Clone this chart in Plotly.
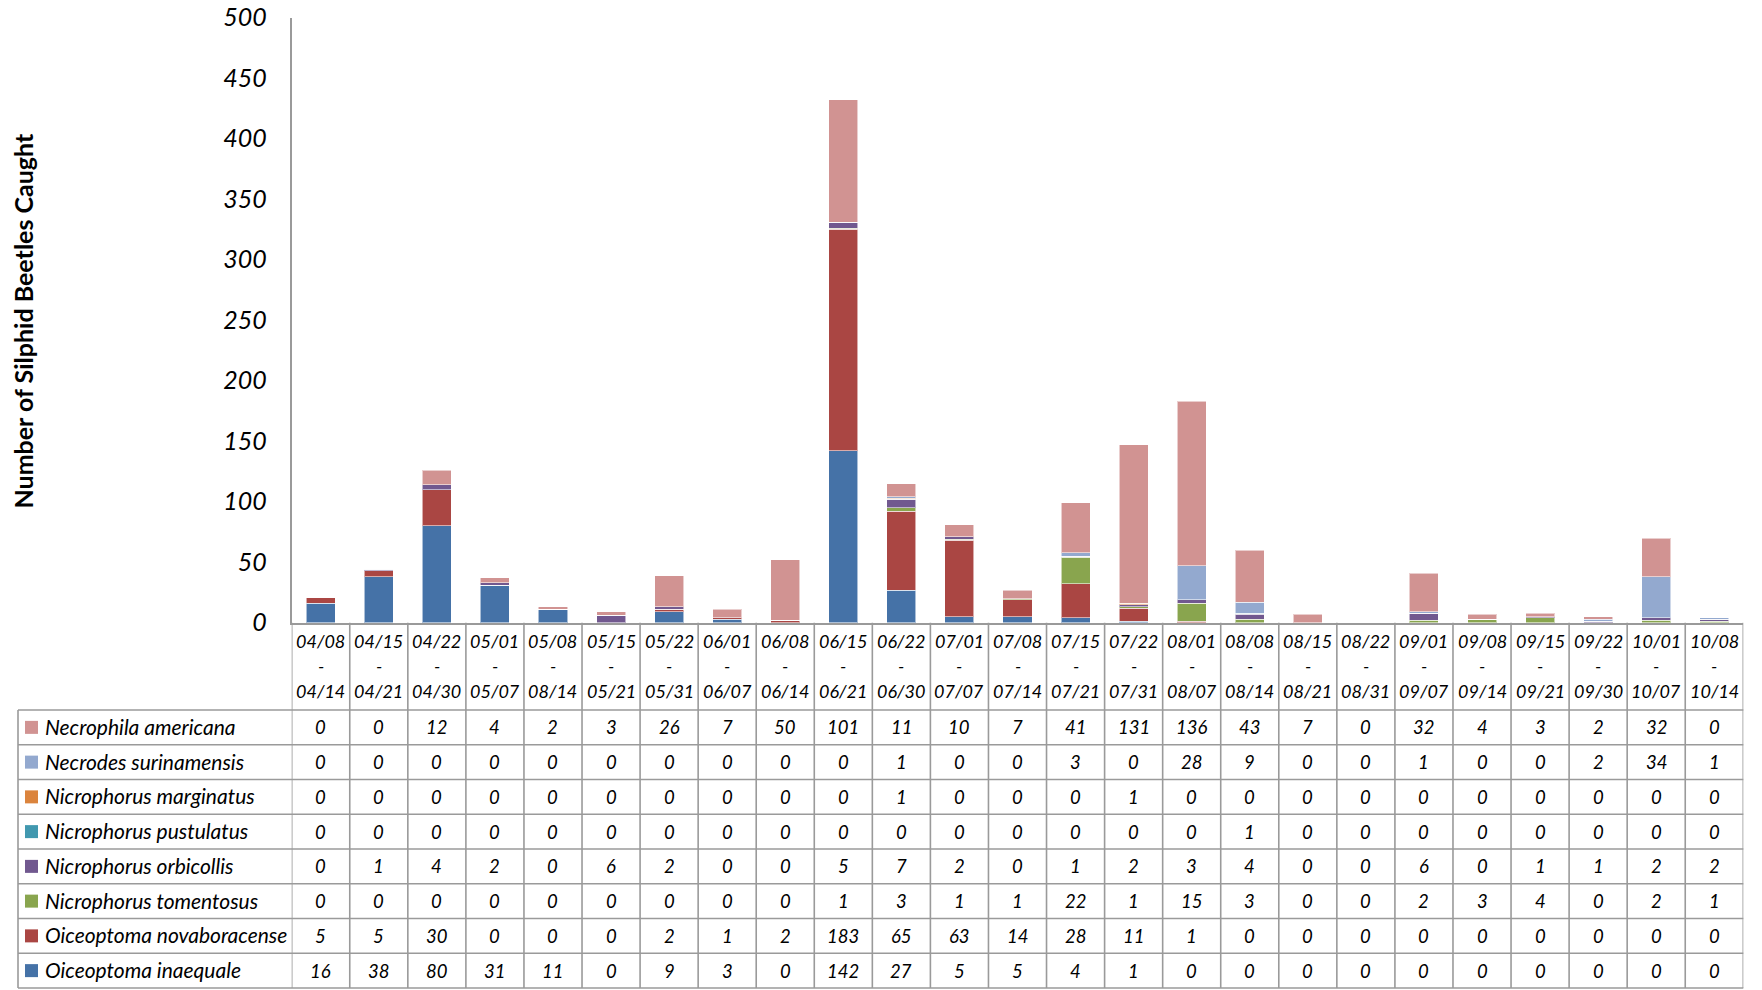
import plotly.graph_objects as go

# Sampling periods (start / end of each trapping week)
period_start = ["04/08", "04/15", "04/22", "05/01", "05/08", "05/15", "05/22", "06/01", "06/08",
                "06/15", "06/22", "07/01", "07/08", "07/15", "07/22", "08/01", "08/08", "08/15",
                "08/22", "09/01", "09/08", "09/15", "09/22", "10/01", "10/08"]
period_end = ["04/14", "04/21", "04/30", "05/07", "08/14", "05/21", "05/31", "06/07", "06/14",
              "06/21", "06/30", "07/07", "07/14", "07/21", "07/31", "08/07", "08/14", "08/21",
              "08/31", "09/07", "09/14", "09/21", "09/30", "10/07", "10/14"]

# Counts per species (stacking order: first list at bottom)
oiceoptoma_inaequale = [16, 38, 80, 31, 11, 0, 9, 3, 0, 142, 27, 5, 5, 4, 1, 0, 0, 0, 0, 0, 0, 0, 0, 0, 0]
oiceoptoma_novaboracense = [5, 5, 30, 0, 0, 0, 2, 1, 2, 183, 65, 63, 14, 28, 11, 1, 0, 0, 0, 0, 0, 0, 0, 0, 0]
nicrophorus_tomentosus = [0, 0, 0, 0, 0, 0, 0, 0, 0, 1, 3, 1, 1, 22, 1, 15, 3, 0, 0, 2, 3, 4, 0, 2, 1]
nicrophorus_orbicollis = [0, 1, 4, 2, 0, 6, 2, 0, 0, 5, 7, 2, 0, 1, 2, 3, 4, 0, 0, 6, 0, 1, 1, 2, 2]
nicrophorus_pustulatus = [0, 0, 0, 0, 0, 0, 0, 0, 0, 0, 0, 0, 0, 0, 0, 0, 1, 0, 0, 0, 0, 0, 0, 0, 0]
nicrophorus_marginatus = [0, 0, 0, 0, 0, 0, 0, 0, 0, 0, 1, 0, 0, 0, 1, 0, 0, 0, 0, 0, 0, 0, 0, 0, 0]
necrodes_surinamensis = [0, 0, 0, 0, 0, 0, 0, 0, 0, 0, 1, 0, 0, 3, 0, 28, 9, 0, 0, 1, 0, 0, 2, 34, 1]
necrophila_americana = [0, 0, 12, 4, 2, 3, 26, 7, 50, 101, 11, 10, 7, 41, 131, 136, 43, 7, 0, 32, 4, 3, 2, 32, 0]

series = [
    ("Oiceoptoma inaequale", oiceoptoma_inaequale, "#4572A7"),
    ("Oiceoptoma novaboracense", oiceoptoma_novaboracense, "#AA4643"),
    ("Nicrophorus tomentosus", nicrophorus_tomentosus, "#89A54E"),
    ("Nicrophorus orbicollis", nicrophorus_orbicollis, "#71588F"),
    ("Nicrophorus pustulatus", nicrophorus_pustulatus, "#4198AF"),
    ("Nicrophorus marginatus", nicrophorus_marginatus, "#DB843D"),
    ("Necrodes surinamensis", necrodes_surinamensis, "#93A9CF"),
    ("Necrophila americana", necrophila_americana, "#D19392"),
]

y_ticks = [0, 50, 100, 150, 200, 250, 300, 350, 400, 450, 500]

W, H = 1762, 990
FONT = "Lato"
GRID = "#9a9a9a"

# page-pixel layout helpers
def fx(p):
    return p / W

def fy(p):
    return 1 - p / H

plot_left, plot_right = 291.7, 1743.3
plot_top, plot_bottom = 17.7, 622.7
table_left = 18
table_top = 710
row_h = 34.75
table_bottom = table_top + row_h * len(series)

n = len(period_start)
xs = list(range(n))

fig = go.Figure()
for name, vals, color in series:
    fig.add_trace(go.Bar(
        x=xs, y=vals, name=name,
        marker=dict(color=color, line=dict(color="rgba(255,255,255,0.55)", width=1)),
        showlegend=False,
    ))

shapes = []
annotations = []

# category labels under the axis (start / dash / end)
for i in xs:
    for txt, ypx in ((period_start[i], 640.5), ("-", 665.5), (period_end[i], 691)):
        annotations.append(dict(x=i, y=fy(ypx), xref="x", yref="paper", text=txt,
                                showarrow=False, xanchor="center", yanchor="middle",
                                font=dict(family=FONT, size=18, color="#000", style="italic")))

# vertical separators between categories, running through the data table
for i in range(n + 1):
    shapes.append(dict(type="line", xref="x", yref="paper", x0=i - 0.5, x1=i - 0.5,
                       y0=fy(plot_bottom), y1=fy(table_bottom),
                       line=dict(color=GRID, width=1.6)))

# table horizontal rules
for r in range(len(series) + 1):
    ypx = table_top + r * row_h
    shapes.append(dict(type="line", xref="paper", yref="paper", x0=fx(table_left), x1=fx(plot_right),
                       y0=fy(ypx), y1=fy(ypx), line=dict(color=GRID, width=1.6)))
# table left border
shapes.append(dict(type="line", xref="paper", yref="paper", x0=fx(table_left), x1=fx(table_left),
                   y0=fy(table_top), y1=fy(table_bottom), line=dict(color=GRID, width=1.6)))

# table rows: top row is the last (uppermost) stacked series
for r, (name, vals, color) in enumerate(reversed(series)):
    yc = table_top + row_h * (r + 0.5)
    shapes.append(dict(type="rect", xref="paper", yref="paper",
                       x0=fx(25), x1=fx(38), y0=fy(yc - 6.5), y1=fy(yc + 6.5),
                       fillcolor=color, line=dict(width=0)))
    annotations.append(dict(x=fx(43), y=fy(yc - 1), xref="paper", yref="paper", text=name,
                            showarrow=False, xanchor="left", yanchor="middle",
                            font=dict(family=FONT, size=21, color="#000", style="italic")))
    for i in xs:
        annotations.append(dict(x=i, y=fy(yc), xref="x", yref="paper", text=str(vals[i]),
                                showarrow=False, xanchor="center", yanchor="middle",
                                font=dict(family=FONT, size=18.5, color="#000", style="italic")))

# y-axis title
annotations.append(dict(x=fx(22.5), y=fy(321), xref="paper", yref="paper",
                        text="<b>Number of Silphid Beetles Caught</b>", textangle=-90,
                        showarrow=False, xanchor="center", yanchor="middle",
                        font=dict(family=FONT, size=25, color="#000")))

fig.update_layout(
    width=W, height=H,
    margin=dict(l=0, r=0, t=0, b=0, pad=0, autoexpand=False),
    paper_bgcolor="white", plot_bgcolor="white",
    barmode="stack", bargap=0.5,
    shapes=shapes, annotations=annotations,
    xaxis=dict(domain=[fx(plot_left), fx(plot_right)], range=[-0.5, n - 0.5],
               showticklabels=False, ticks="", showgrid=False, zeroline=False, automargin=False,
               showline=True, linecolor=GRID, linewidth=2),
    yaxis=dict(domain=[fy(plot_bottom), fy(plot_top)], range=[0, 500],
               tickvals=y_ticks, ticks="", showgrid=False, zeroline=False, automargin=False,
               showline=True, linecolor=GRID, linewidth=2, ticklabelstandoff=18,
               tickfont=dict(family=FONT, size=25, color="#000", style="italic")),
)

fig.write_html("out.html")
